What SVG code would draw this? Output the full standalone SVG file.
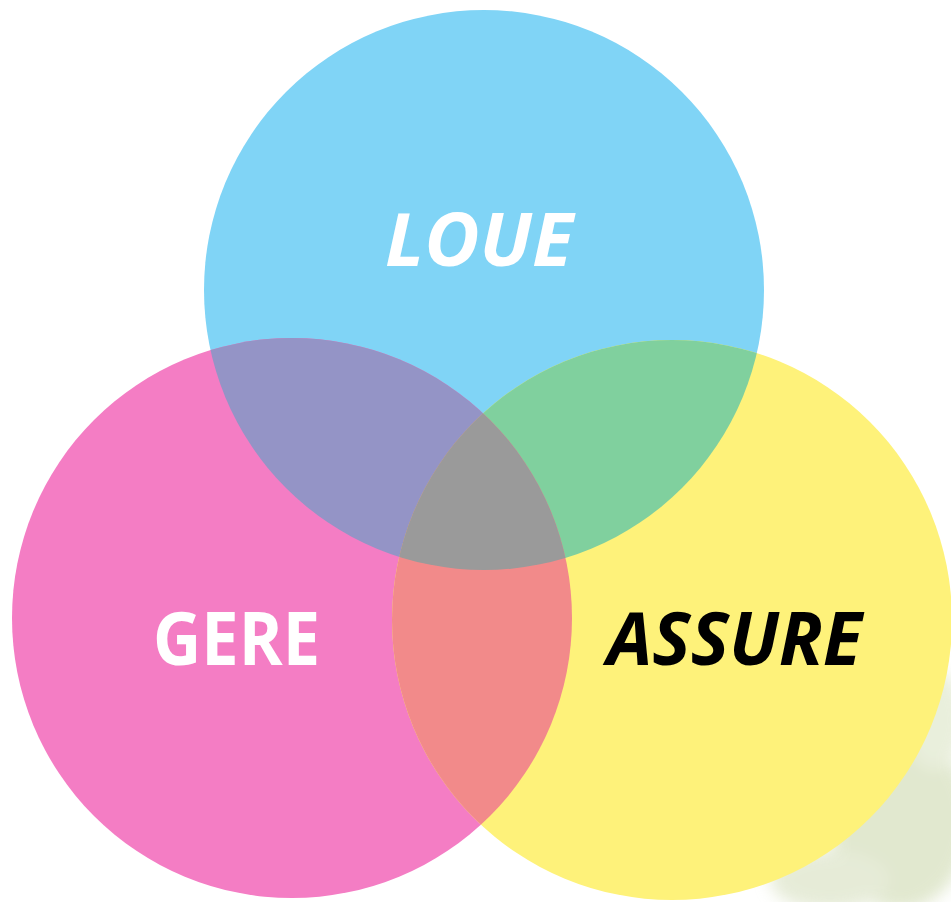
<svg xmlns="http://www.w3.org/2000/svg" width="951" height="902" viewBox="0 0 951 902">
<style>
.lbl{font-family:"Open Sans","Liberation Sans",sans-serif;font-weight:700;font-size:73px}
.w{fill:#ffffff}
.k{fill:#000000}
.it{font-style:italic}
</style>
<defs>
<clipPath id="cb"><circle cx="484" cy="290" r="280"/></clipPath>
<clipPath id="cp"><circle cx="292" cy="618" r="280"/></clipPath>
<clipPath id="cy"><circle cx="672" cy="620" r="280"/></clipPath>
<filter id="blur" x="-50%" y="-50%" width="200%" height="200%"><feGaussianBlur stdDeviation="8"/></filter>
</defs>
<rect width="951" height="902" fill="#ffffff"/>
<g id="background" filter="url(#blur)" opacity="0.55">
<ellipse cx="900" cy="820" rx="70" ry="90" fill="#c9d6a8"/>
<ellipse cx="830" cy="880" rx="60" ry="30" fill="#d2dcb8"/>
<ellipse cx="935" cy="720" rx="30" ry="50" fill="#d8e2c0"/>
</g>
<g id="node-loue">
<circle cx="484" cy="290" r="280" fill="#80D4F6"/>
</g>
<g id="node-gere">
<circle cx="292" cy="618" r="280" fill="#F47DC4"/>
</g>
<g id="node-assure">
<circle cx="672" cy="620" r="280" fill="#FEF27A"/>
</g>
<g id="overlaps">
<g clip-path="url(#cb)"><circle cx="292" cy="618" r="280" fill="#9494C6"/></g>
<g clip-path="url(#cb)"><circle cx="672" cy="620" r="280" fill="#80D09E"/></g>
<g clip-path="url(#cp)"><circle cx="672" cy="620" r="280" fill="#F28A8A"/></g>
<g clip-path="url(#cb)"><g clip-path="url(#cp)"><circle cx="672" cy="620" r="280" fill="#9A9A9A"/></g></g>
</g>
<g id="labels">
<text class="lbl w it" x="385" y="266" textLength="188" lengthAdjust="spacingAndGlyphs">LOUE</text>
<text class="lbl w" x="153" y="665" textLength="167" lengthAdjust="spacingAndGlyphs">GERE</text>
<text class="lbl k it" x="607" y="665" textLength="255" lengthAdjust="spacingAndGlyphs">ASSURE</text>
</g>
</svg>
